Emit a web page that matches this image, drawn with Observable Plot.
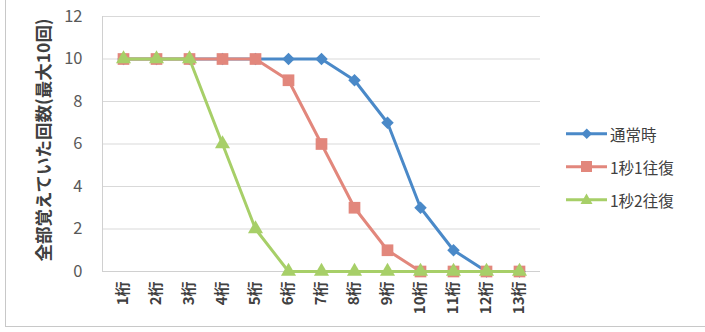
<!DOCTYPE html>
<html>
<head>
<meta charset="utf-8">
<script src="https://cdn.jsdelivr.net/npm/d3@7"></script>
<script src="https://cdn.jsdelivr.net/npm/@observablehq/plot@0.6"></script>
<style>
  html, body { margin: 0; padding: 0; background: #fff; }
  #wrap { position: relative; width: 705px; height: 332px; font-family: "Noto Sans CJK JP", "Noto Sans", sans-serif; }
  #border { position: absolute; left: 5px; top: -2px; width: 710px; height: 328px; border-left: 1px solid #c8c8c8; border-bottom: 1px solid #c8c8c8; }
  #legend { position: absolute; left: 566px; top: 117px; font-size: 15.5px; color: #404040; }
  #legend .item { display: flex; align-items: center; height: 33px; }
  #legend svg { margin-right: 3px; }
</style>
</head>
<body>
<div id="wrap"><div id="border"></div><div id="chart"></div><div id="legend"></div></div>
<script>
// Digit counts shown on the horizontal axis
const digits = ["1桁","2桁","3桁","4桁","5桁","6桁","7桁","8桁","9桁","10桁","11桁","12桁","13桁"];
// Number of times every digit was remembered (max 10), per condition
const normal   = [10,10,10,10,10,10,10,9,7,3,1,0,0];
const oneTrip  = [10,10,10,10,10,9,6,3,1,0,0,0,0];
const twoTrips = [10,10,10,6,2,0,0,0,0,0,0,0,0];
const seriesNames = ["通常時","1秒1往復","1秒2往復"];
const seriesColors = ["#4a89c8","#e2877c","#a7cf68"];
const yTicks = [0,2,4,6,8,10,12];
const yTitle = "全部覚えていた回数(最大10回)";

const seriesValues = [normal, oneTrip, twoTrips];
const symbols = ["square","square","triangle"];
const rotations = [45,0,0];
const radii = [5.0,6.6,5.6];

const marks = [
  Plot.gridY(yTicks, {stroke: "#d9d9d9", strokeOpacity: 1}),
  Plot.frame({anchor: "left", stroke: "#d0d0d0"}),
  Plot.ruleY([0], {stroke: "#d0d0d0"}),
  Plot.axisY(yTicks, {tickSize: 0, tickPadding: 20, fontSize: 16.5, fill: "#595959", label: null}),
  Plot.axisX({tickSize: 0, tickRotate: -90, tickPadding: 10, fontSize: 15, fontWeight: "bold", fill: "#404040", label: null}),
  Plot.text([yTitle], {frameAnchor: "left", textAnchor: "middle", dx: -58, dy: -4, rotate: -90, fontSize: 17.5, fontWeight: "bold", fill: "#404040"})
];

seriesValues.forEach((vals, i) => {
  const rows = digits.map((d, j) => ({digit: d, count: vals[j]}));
  marks.push(Plot.line(rows, {x: "digit", y: "count", stroke: seriesColors[i], strokeWidth: 3}));
  marks.push(Plot.dot(rows, {x: "digit", y: "count", symbol: symbols[i], rotate: rotations[i], r: radii[i], fill: seriesColors[i], stroke: "none"}));
});

const chart = Plot.plot({
  width: 705,
  height: 332,
  marginLeft: 102,
  marginRight: 165,
  marginTop: 16,
  marginBottom: 61,
  style: {fontFamily: "'Noto Sans CJK JP', 'Noto Sans', sans-serif", background: "transparent", overflow: "visible"},
  x: {type: "point", domain: digits, padding: 0.5, align: 0.5},
  y: {domain: [0, 12], ticks: yTicks},
  marks
});
document.getElementById("chart").append(chart);

// Legend: line swatch with the series marker, then the series name
const legend = document.getElementById("legend");
seriesNames.forEach((name, i) => {
  const item = document.createElement("div");
  item.className = "item";
  const c = seriesColors[i];
  let marker;
  if (i === 0) marker = `<rect x="17" y="3" width="7.5" height="7.5" fill="${c}" transform="rotate(45 20.75 6.75)"/>`;
  else if (i === 1) marker = `<rect x="15" y="1" width="11" height="11" fill="${c}"/>`;
  else marker = `<path d="M20.5,0.5 L26.5,11 L14.5,11 Z" fill="${c}"/>`;
  item.innerHTML = `<svg width="41" height="14"><line x1="0" x2="41" y1="6.75" y2="6.75" stroke="${c}" stroke-width="3"/>${marker}</svg><span>${name}</span>`;
  legend.append(item);
});
</script>
</body>
</html>
